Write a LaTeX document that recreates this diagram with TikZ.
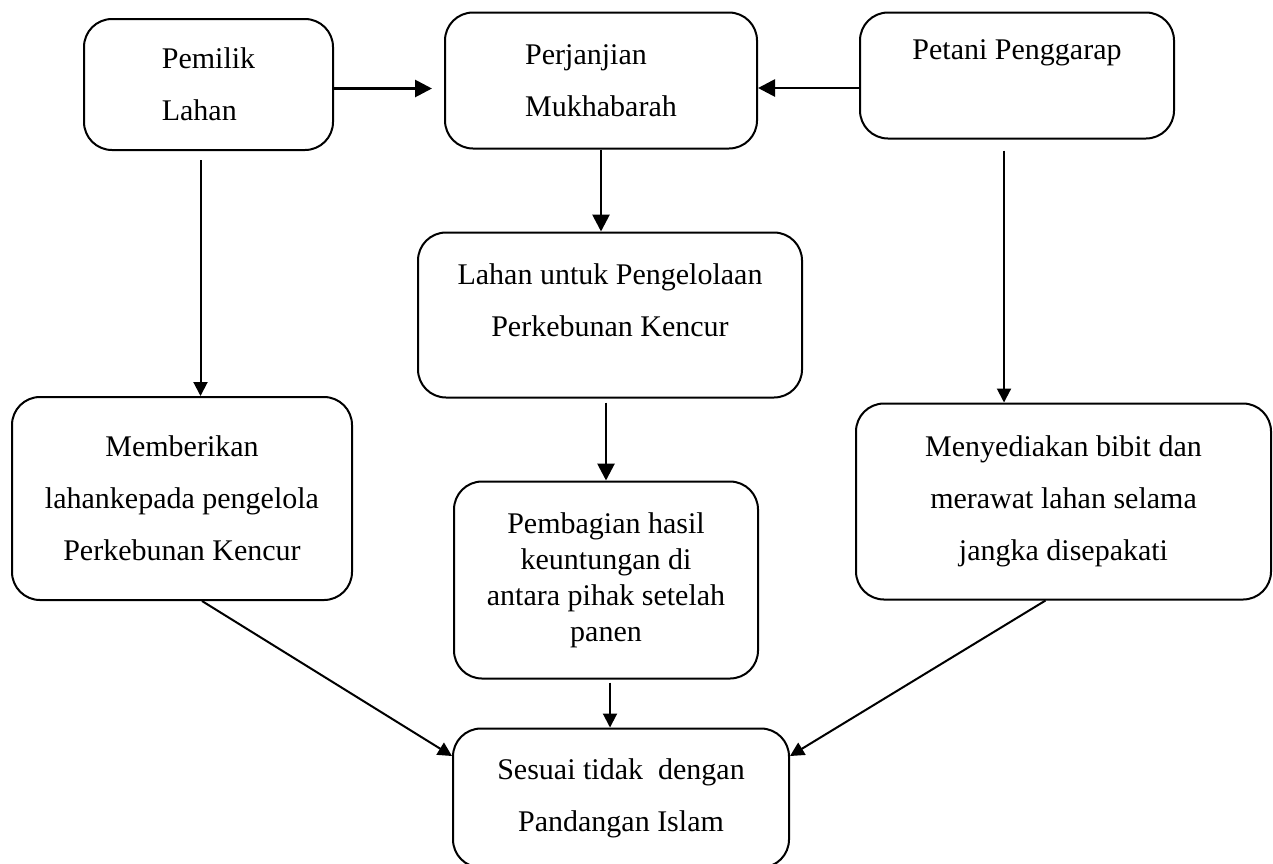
\documentclass[tikz,border=0pt]{standalone}
\usepackage{fontspec}
\setmainfont{Liberation Serif}
\usetikzlibrary{positioning,arrows.meta}
\tikzset{
  box/.style={rectangle, draw=black, line width=1pt, rounded corners=14pt, inner sep=0pt, font=\fontsize{15}{26}\selectfont},
  link/.style={-{Triangle[length=7pt,width=7pt]}, line width=1pt},
  mainlink/.style={-{Triangle[length=8.5pt,width=8.5pt]}, line width=1.4pt},
}
\begin{document}
\begin{tikzpicture}[
  x=1pt, y=1pt,
  every node/.style={align=center}
]
  \useasboundingbox (0,0) rectangle (636.5,-431.5);

  \node[box, minimum width=124.5pt, minimum height=65.5pt, align=left] (owner) at (104.25,-42.25) {Pemilik\\Lahan};
  \node[box, minimum width=156pt, minimum height=68pt, align=left, right=55pt of owner, yshift=2pt] (pact) {Perjanjian\\Mukhabarah};
  \node[box, minimum width=157pt, minimum height=63pt, right=50.5pt of pact, yshift=2.5pt] (farmer) {Petani Penggarap\\\mbox{}};
  \node[box, minimum width=192pt, minimum height=82.5pt, below=41pt of pact, xshift=4.5pt] (land) {Lahan untuk Pengelolaan\\Perkebunan Kencur\\[-11pt]\mbox{}};
  \node[box, minimum width=170pt, minimum height=101.5pt, below=122.5pt of owner, xshift=-13.25pt] (give) {Memberikan\\lahankepada pengelola\\Perkebunan Kencur};
  \node[box, minimum width=152pt, minimum height=98.5pt, font=\fontsize{15}{18}\selectfont, below=41pt of land, xshift=-2pt] (share) {Pembagian hasil\\keuntungan di\\antara pihak setelah\\panen};
  \node[box, minimum width=207.5pt, minimum height=98pt, below=131.5pt of farmer, xshift=23.25pt] (seed) {Menyediakan bibit dan\\merawat lahan selama\\jangka disepakati};
  \node[box, minimum width=168pt, minimum height=69.5pt, below=24pt of share, xshift=7.5pt] (result) {Sesuai tidak~ dengan\\Pandangan Islam};

  \draw[mainlink, shorten >=6pt] ([yshift=-2pt]owner.east) -- ([yshift=-2pt]owner.east -| pact.west);
  \draw[mainlink] ([yshift=-6.25pt]farmer.west) -- ([yshift=-6.25pt]farmer.west -| pact.east);
  \draw[mainlink] (pact.south) -- (pact.south |- land.north);
  \draw[link, shorten <=4.5pt] ([xshift=-4pt]owner.south) -- ([xshift=-4pt]owner.south |- give.north);
  \draw[link, shorten <=5.5pt] ([xshift=-6.5pt]farmer.south) -- ([xshift=-6.5pt]farmer.south |- seed.north);
  \draw[mainlink, shorten <=2pt] (share.north |- land.south) -- (share.north);
  \draw[link, shorten <=1.5pt] ([xshift=2pt]share.south) -- ([xshift=2pt]share.south |- result.north);
  \draw[link] ([xshift=10pt]give.south) -- ([yshift=21pt]result.west);
  \draw[link] ([xshift=-9pt]seed.south) -- ([yshift=21pt]result.east);
\end{tikzpicture}
\end{document}
